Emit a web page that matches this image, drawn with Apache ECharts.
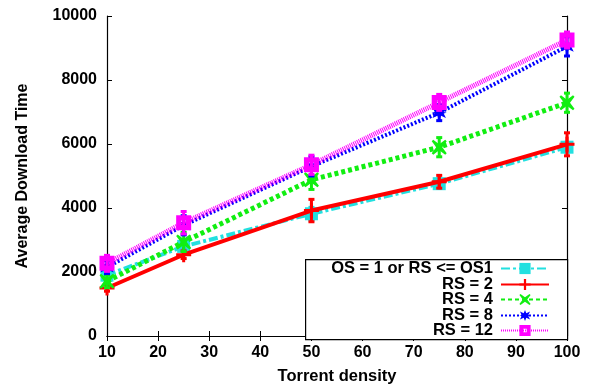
<!DOCTYPE html>
<html><head><meta charset="utf-8">
<script src="https://cdn.jsdelivr.net/npm/echarts@6/dist/echarts.min.js"></script>
<style>html,body{margin:0;padding:0;background:#fff}#c{width:590px;height:390px}</style>
</head><body><div id="c"></div>
<script>
const densities = [10, 25, 50, 75, 100];
const seriesNames = ['OS = 1 or RS <= OS1', 'RS = 2', 'RS = 4', 'RS = 8', 'RS = 12'];
const osOne = [1900, 2800, 3820, 4760, 5900];
const rs2 = [1500, 2540, 3920, 4820, 5990];
const rs4 = [1710, 2940, 4880, 5900, 7290];
const rs8 = [2150, 3460, 5300, 6980, 9050];
const rs12 = [2270, 3540, 5350, 7300, 9250];
const errOs = [150, 150, 200, 150, 150];
const err2 = [100, 120, 350, 200, 360];
const err4 = [200, 300, 300, 300, 300];
const err8 = [200, 300, 300, 250, 300];
const err12 = [250, 350, 300, 250, 250];
const yTicks = [0, 2000, 4000, 6000, 8000, 10000];
const xTicks = [10, 20, 30, 40, 50, 60, 70, 80, 90, 100];

const font = '"Liberation Sans", Arial, sans-serif';
const colors = ['#22e0e0', '#ff0000', '#11ee11', '#0000ff', '#ff00ff'];
const values = [osOne, rs2, rs4, rs8, rs12];
const errs = [errOs, err2, err4, err8, err12];
const lineTypes = [[9, 3, 3, 3], 'solid', [4, 3], [2, 2], [1, 1]];
const lineWidths = [4, 4, 5, 4, 5];
const symbols = [
  'rect',
  'path://M4,0H6V4H10V6H6V10H4V6H0V4H4Z',
  'path://M1,0L5,3L9,0L10,1L7,5L10,9L9,10L5,7L1,10L0,9L3,5L0,1Z',
  'path://M5,0L6.2,3L9.5,1.5L8,4.5L10,5L8,5.5L9.5,8.5L6.2,7L5,10L3.8,7L0.5,8.5L2,5.5L0,5L2,4.5L0.5,1.5L3.8,3Z',
  'path://M0,0H10V10H0Z M3.5,3.5V6.5H6.5V3.5Z'
];
const symSizes = [13, 15, 15, 15, 15];

const series = [];
values.forEach((vals, i) => {
  series.push({
    name: seriesNames[i], type: 'line', data: densities.map((d, k) => [d, vals[k]]),
    symbol: symbols[i], symbolSize: symSizes[i], showAllSymbol: true,
    lineStyle: { color: colors[i], width: lineWidths[i], type: lineTypes[i] },
    itemStyle: { color: colors[i] }, z: 3 + i, animation: false
  });
  series.push({
    type: 'custom', z: 3 + i, animation: false,
    data: densities.map((d, k) => [d, vals[k] - errs[i][k], vals[k] + errs[i][k]]),
    renderItem: (params, api) => {
      const lo = api.coord([api.value(0), api.value(1)]);
      const hi = api.coord([api.value(0), api.value(2)]);
      const w = 3;
      const st = { stroke: colors[i], lineWidth: 3 };
      return { type: 'group', children: [
        { type: 'line', shape: { x1: lo[0], y1: lo[1], x2: hi[0], y2: hi[1] }, style: st },
        { type: 'line', shape: { x1: lo[0] - w, y1: lo[1], x2: lo[0] + w, y2: lo[1] }, style: st },
        { type: 'line', shape: { x1: hi[0] - w, y1: hi[1], x2: hi[0] + w, y2: hi[1] }, style: st }
      ]};
    }
  });
});

const legendTops = [260, 276, 291, 307, 322];
const legends = seriesNames.map((n, i) => ({
  data: [n], right: 40, top: legendTops[i], align: 'right', orient: 'vertical',
  itemWidth: 48, itemHeight: 14, itemGap: 0, padding: 0,
  textStyle: { fontFamily: font, fontWeight: 'bold', fontSize: 16.5, color: '#000', padding: [0, 3, 0, 0] },
  selectedMode: false, z: 10
}));

const axisCommon = {
  axisLine: { show: true, lineStyle: { color: '#000', width: 1.2 } },
  axisTick: { show: true, inside: true, length: 5, lineStyle: { color: '#000' } },
  splitLine: { show: false }
};

const chart = echarts.init(document.getElementById('c'), null, { renderer: 'canvas' });
chart.setOption({
  backgroundColor: '#fff',
  animation: false,
  grid: { left: 107, right: 23, top: 16, bottom: 47 },
  legend: legends,
  graphic: [{ type: 'rect', left: 305, top: 259, shape: { width: 262, height: 80 },
    style: { fill: '#fff', stroke: '#000', lineWidth: 1.2 }, z: 9 }],
  xAxis: [
    Object.assign({ type: 'value', min: xTicks[0], max: xTicks[xTicks.length - 1], interval: 10,
      name: 'Torrent density', nameLocation: 'middle', nameGap: 32,
      nameTextStyle: { fontFamily: font, fontWeight: 'bold', fontSize: 16.5, color: '#000' },
      axisLabel: { fontFamily: font, fontWeight: 'bold', fontSize: 16, color: '#000', margin: 9 } }, axisCommon),
    Object.assign({ type: 'value', position: 'top', min: 10, max: 100, interval: 10, axisLabel: { show: false } }, axisCommon)
  ],
  yAxis: [
    Object.assign({ type: 'value', min: yTicks[0], max: yTicks[yTicks.length - 1], interval: 2000,
      name: 'Average Download Time', nameLocation: 'middle', nameGap: 76, nameRotate: 90,
      nameTextStyle: { fontFamily: font, fontWeight: 'bold', fontSize: 16, color: '#000' },
      axisLabel: { fontFamily: font, fontWeight: 'bold', fontSize: 16, color: '#000', margin: 10,
        formatter: v => String(v) } }, axisCommon),
    Object.assign({ type: 'value', position: 'right', min: 0, max: 10000, interval: 2000, axisLabel: { show: false } }, axisCommon)
  ],
  series: series
});
</script></body></html>
